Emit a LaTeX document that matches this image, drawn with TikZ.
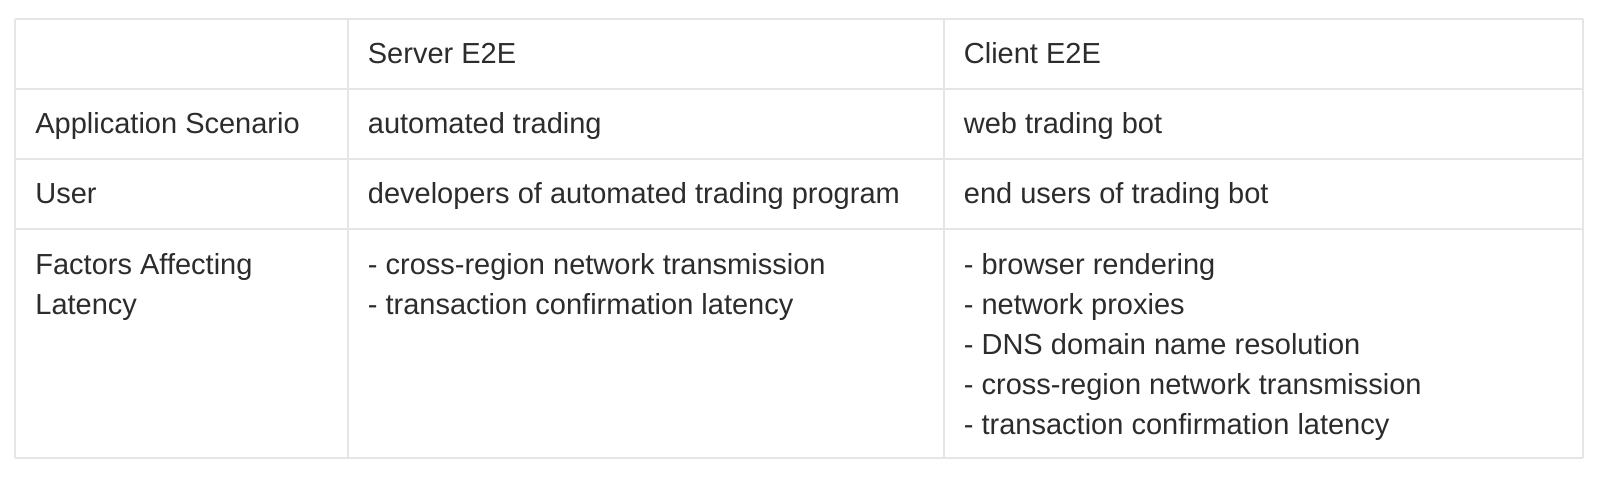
\documentclass[tikz,border=0pt]{standalone}
\usepackage{fontspec}
\setmainfont{Liberation Sans}
\usepackage{tikz}
\definecolor{lineColor}{RGB}{229,229,229}
\definecolor{textColor}{RGB}{44,44,44}
\tikzstyle{sheet} = [x = .5pt, y = -.5pt]
\tikzstyle{tableLine} = [color=lineColor, line width=1pt]
\tikzstyle{cellText} = [anchor=base west, inner sep=0pt, align=left, text=textColor,
  font=\fontsize{14.5}{20}\selectfont]
\newcommand{\colLeft}{15}
\newcommand{\colRight}{1582.5}
\newcommand{\rowTop}{19}
\newcommand{\rowBottom}{458}
\newcommand{\lineStep}{40}
% name, cell left, first baseline, lines, text
\newcommand{\cellEntry}[5]{\node [cellText] (#1) at (#2 + 20, #3 + \lineStep * #4 - \lineStep) {#5};}

\begin{document}
\begin{tikzpicture}[sheet]
        \useasboundingbox (0,0) rectangle (1600,484);
        \fill [white] (0,0) rectangle (1600,484);

        % grid
        \foreach \col in {\colLeft, 347.5, 943.5, \colRight} {
          \draw [tableLine] (\col, \rowTop) -- (\col, \rowBottom);
        }
        \foreach \row in {\rowTop, 89, 159, 229, \rowBottom} {
          \draw [tableLine] (\colLeft, \row) -- (\colRight, \row);
        }

        % header
        \cellEntry{headServer}{347.5}{63.5}{1}{Server E2E}
        \cellEntry{headClient}{943.5}{63.5}{1}{Client E2E}

        % rows
        \cellEntry{scenLabel}{\colLeft}{133.5}{1}{Application Scenario}
        \cellEntry{scenServer}{347.5}{133.5}{1}{automated trading}
        \cellEntry{scenClient}{943.5}{133.5}{1}{web trading bot}

        \cellEntry{userLabel}{\colLeft}{203.5}{1}{User}
        \cellEntry{userServer}{347.5}{203.5}{1}{developers of automated trading program}
        \cellEntry{userClient}{943.5}{203.5}{1}{end users of trading bot}

        \cellEntry{factLabel}{\colLeft}{274}{2}{Factors Affecting\\Latency}
        \cellEntry{factServer}{347.5}{274}{2}{- cross-region network transmission\\- transaction confirmation latency}
        \cellEntry{factClient}{943.5}{274}{5}{- browser rendering\\- network proxies\\- DNS domain name resolution\\- cross-region network transmission\\- transaction confirmation latency}
      \end{tikzpicture}
\end{document}
